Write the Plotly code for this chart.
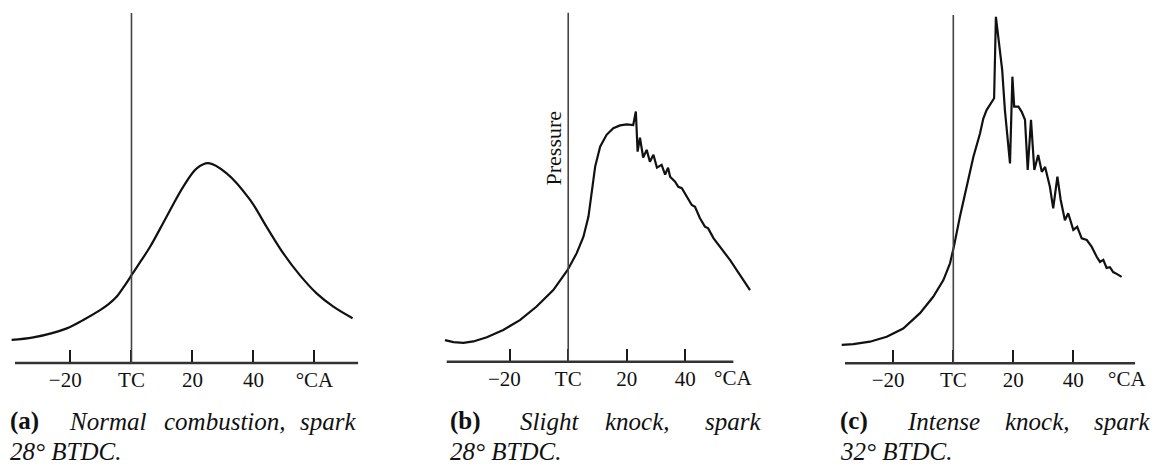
import plotly.graph_objects as go

W, H = 1158, 464

# ---- pressure traces (crank angle in degrees, pressure in arbitrary units) ----
angle_a = [-39.3, -32.2, -21.2, -15.8, -10.3, -7.5, -4.9, -2.4, 0.4, 3.2, 6.1,
           11.5, 17.0, 21.4, 25.2, 31.2, 38.9, 44.3, 49.8, 55.2, 60.7, 66.2, 72.5]
pressure_a = [6.6, 7.3, 9.9, 12.3, 15.1, 16.8, 18.9, 21.9, 25.6, 29.3, 33.2,
              41.8, 50.4, 55.6, 57.1, 54.2, 46.6, 38.9, 31.3, 25.1, 19.9, 16.1, 12.8]

angle_b = [-42.1, -39.2, -35.8, -32.4, -27.8, -22.2, -16.5, -10.8, -5.1, -0.2,
           2.9, 5.2, 6.9, 8.0, 9.2, 10.9, 13.1, 15.4, 17.7, 20.0, 22.2,
           23.1, 23.7, 24.5, 25.6, 26.8, 27.9, 29.1, 30.3, 31.9, 33.1, 34.1,
           34.8, 36.5, 37.6, 38.8, 40.5, 42.2, 43.3, 45.0, 46.7, 47.8, 49.6,
           51.8, 53.6, 55.3, 57.5, 59.8, 62.1]
pressure_b = [6.2, 5.6, 5.4, 5.8, 7.0, 9.1, 11.9, 15.8, 20.5, 26.3,
              31.1, 35.8, 41.5, 48.3, 55.9, 61.6, 65.0, 66.9, 67.7, 68.0, 67.8,
              71.7, 60.2, 64.2, 58.5, 60.7, 57.3, 59.3, 55.6, 56.4, 53.6, 55.6,
              53.0, 51.6, 50.1, 49.7, 47.3, 44.9, 44.4, 41.1, 38.7, 38.2, 35.4,
              33.0, 31.1, 29.1, 26.3, 23.4, 20.5]

angle_c = [-37.2, -33.3, -27.8, -22.2, -16.7, -11.1, -6.7, -3.3, -1.1, 0.2,
           2.2, 4.5, 6.7, 8.9, 10.0, 11.1, 12.8, 13.6, 14.2, 15.6, 16.3, 17.2,
           18.9, 19.7, 20.3, 21.7, 22.8, 23.9, 24.8, 25.9, 27.0, 28.3, 29.5,
           30.6, 32.2, 33.3, 34.7, 35.8, 37.2, 38.3, 40.0, 41.3, 42.8, 44.5,
           46.1, 47.8, 48.9, 50.0, 51.1, 52.2, 53.3, 54.6, 56.1]
pressure_c = [5.3, 5.5, 6.2, 7.6, 10.0, 14.4, 19.1, 23.9, 28.7, 33.5,
              42.1, 50.7, 59.3, 66.0, 70.3, 72.7, 75.1, 76.1, 99.5, 88.0, 84.2, 72.7,
              57.4, 82.3, 73.7, 73.7, 72.2, 69.9, 55.5, 69.9, 55.5, 59.8, 55.0,
              56.4, 50.7, 44.5, 53.6, 46.9, 41.1, 43.1, 38.3, 39.2, 35.9, 35.4,
              33.5, 30.6, 29.1, 29.7, 27.4, 27.6, 26.2, 25.6, 24.8]

# ---- axis ticks ----
tick_vals_a = [-20, 0, 20, 40, 60]
tick_text_a = ["\u221220\u2002", "TC", "20", "40", "\u00b0CA"]
tick_vals_bc = [-20, 0, 20, 40]
tick_text_bc = ["\u221220\u2002", "TC", "20", "40"]
unit_label = "\u00b0CA"
unit_label_pos = [None, 56.4, 58.0]
pressure_label = "Pressure"

captions = [
    ("(a)", ["Normal", "combustion,", "spark"], "28\u00b0 BTDC."),
    ("(b)", ["Slight", "knock,", "spark"], "28\u00b0 BTDC."),
    ("(c)", ["Intense", "knock,", "spark"], "32\u00b0 BTDC."),
]

# ---- layout geometry (pixels) ----
panels = [
    dict(xr=[-39.8, 74.6], xd=(10.1, 359.0), yd=(363.0, 2.5), line=(-38.2, 74.3)),
    dict(xr=[-42.6, 62.6], xd=(443.5, 751.5), yd=(361.7, 2.2), line=(-41.5, 56.4)),
    dict(xr=[-37.6, 61.0], xd=(840.5, 1136.3), yd=(363.3, 4.6), line=(-36.1, 60.6)),
]
caption_x = [[8, 67, 162, 298], [448, 518, 603, 703], [838, 905, 1003, 1092]]
cap_y1, cap_y2 = 421, 451

SERIF = "Liberation Serif"
INK = "#111111"
fig = go.Figure()

series = [(angle_a, pressure_a), (angle_b, pressure_b), (angle_c, pressure_c)]
for i, ((xs, ys), p) in enumerate(zip(series, panels), start=1):
    sfx = "" if i == 1 else str(i)
    fig.add_trace(go.Scatter(
        x=xs, y=ys, mode="lines",
        line=dict(color=INK, width=2.2,
                  shape="spline" if i == 1 else "linear", smoothing=1.0),
        xaxis="x" + sfx, yaxis="y" + sfx, showlegend=False, hoverinfo="skip",
    ))
    tv = tick_vals_a if i == 1 else tick_vals_bc
    tt = tick_text_a if i == 1 else tick_text_bc
    fig.update_layout(**{
        "xaxis" + sfx: dict(
            domain=[p["xd"][0] / W, p["xd"][1] / W], range=p["xr"],
            anchor="y" + sfx, showgrid=False, zeroline=False, showline=False,
            ticks="inside", ticklen=13, tickwidth=2, tickcolor="#1a1a1a",
            tickvals=tv, ticktext=tt, ticklabelstandoff=2,
            tickfont=dict(family=SERIF, size=21, color=INK),
        ),
        "yaxis" + sfx: dict(
            domain=[1 - p["yd"][0] / H, 1 - p["yd"][1] / H], range=[0, 103],
            anchor="x" + sfx, visible=False,
        ),
    })
    # crank-angle axis line
    fig.add_shape(type="line", xref="x" + sfx, yref="y" + sfx + " domain",
                  x0=p["line"][0], x1=p["line"][1], y0=0, y1=0,
                  line=dict(color="#333333", width=2.5))
    # top-centre marker line
    fig.add_shape(type="line", xref="x" + sfx, yref="y" + sfx,
                  x0=0, x1=0, y0=0, y1=100,
                  line=dict(color="#444444", width=1.6))
    if unit_label_pos[i - 1] is not None:
        fig.add_annotation(text=unit_label, xref="x" + sfx, yref="y" + sfx + " domain",
                           x=unit_label_pos[i - 1], y=0, yanchor="top", xanchor="center",
                           yshift=-2, showarrow=False,
                           font=dict(family=SERIF, size=21, color=INK))

# pressure axis label beside the TC line of panel (b)
fig.add_annotation(text=pressure_label, xref="paper", yref="paper",
                   x=553 / W, y=1 - 148.5 / H, xanchor="center", yanchor="middle",
                   textangle=-90, showarrow=False,
                   font=dict(family=SERIF, size=22, color=INK))

# sub-figure captions
CAP = dict(family=SERIF, size=25, color=INK)
for (tag, words, line2), xs in zip(captions, caption_x):
    fig.add_annotation(text="<b>%s</b>" % tag, xref="paper", yref="paper",
                       x=xs[0] / W, y=1 - cap_y1 / H, xanchor="left", yanchor="middle",
                       showarrow=False, font=CAP)
    for w, x in zip(words, xs[1:]):
        fig.add_annotation(text="<i>%s</i>" % w, xref="paper", yref="paper",
                           x=x / W, y=1 - cap_y1 / H, xanchor="left", yanchor="middle",
                           showarrow=False, font=CAP)
    fig.add_annotation(text="<i>%s</i>" % line2, xref="paper", yref="paper",
                       x=xs[0] / W, y=1 - cap_y2 / H, xanchor="left", yanchor="middle",
                       showarrow=False, font=CAP)

fig.update_layout(width=W, height=H, margin=dict(l=0, r=0, t=0, b=0),
                  paper_bgcolor="white", plot_bgcolor="white")

fig.write_html("out.html")
